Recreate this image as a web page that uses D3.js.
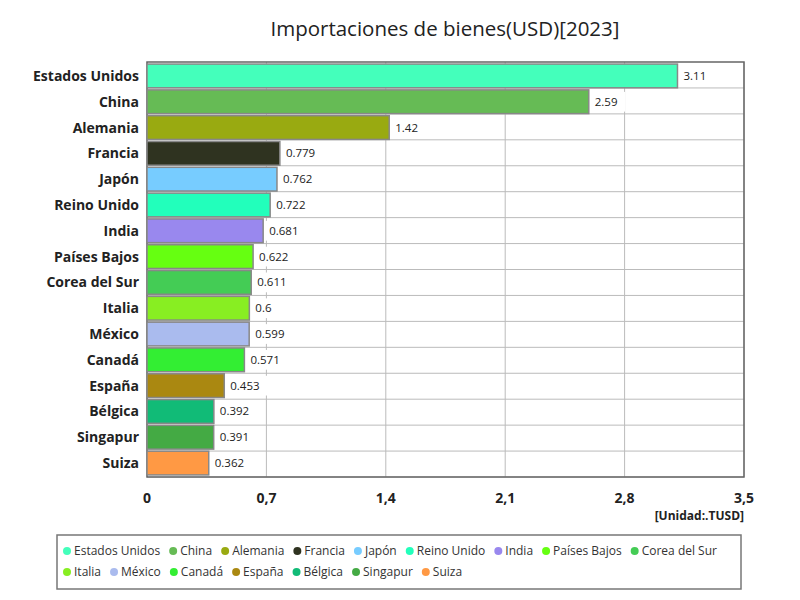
<!DOCTYPE html>
<html><head><meta charset="utf-8">
<script src="https://cdn.jsdelivr.net/npm/d3@7"></script>
<style>body{margin:0;background:#fff;font-family:"Open Sans","Noto Sans",sans-serif;}</style>
</head><body><svg id="c" width="800" height="600"></svg>
<script>
var countries = ["Estados Unidos","China","Alemania","Francia","Japón","Reino Unido","India","Países Bajos","Corea del Sur","Italia","México","Canadá","España","Bélgica","Singapur","Suiza"];
var values = [3.11,2.59,1.42,0.779,0.762,0.722,0.681,0.622,0.611,0.6,0.599,0.571,0.453,0.392,0.391,0.362];
var colors = ["#44ffbb","#66bb55","#99aa11","#2f3320","#77ccff","#22ffbb","#9988ee","#66ff11","#44cc55","#88ee22","#aabbee","#33ee33","#aa8811","#11bb77","#44aa44","#ff9944"];
var ticks = [0,0.7,1.4,2.1,2.8,3.5];

var svg = d3.select("#c");
var m = {l:147, r:744, t:62, b:477};
var x = d3.scaleLinear().domain([0,3.5]).range([m.l,m.r]);
var y = d3.scaleBand().domain(countries).range([m.t,m.b]).padding(0.08);
var fmt = function(v){ return String(v).replace(".", ","); };

svg.append("text").attr("x",445).attr("y",36).attr("text-anchor","middle")
  .style("font-size","20.5px").attr("fill","#222").text("Importaciones de bienes(USD)[2023]");

var g = svg.append("g");
ticks.forEach(function(t){
  g.append("line").attr("x1",x(t)).attr("x2",x(t)).attr("y1",m.t).attr("y2",m.b).attr("stroke","#bbb");
  svg.append("text").attr("x",x(t)).attr("y",503).attr("text-anchor","middle")
    .style("font-size","14px").style("font-weight","bold").attr("fill","#222").text(fmt(t));
});
var step = (m.b-m.t)/countries.length;
countries.forEach(function(c,i){
  g.append("line").attr("x1",m.l).attr("x2",m.r).attr("y1",m.t+step*(i+1)).attr("y2",m.t+step*(i+1)).attr("stroke","#bbb");
});
svg.append("rect").attr("x",m.l).attr("y",m.t).attr("width",m.r-m.l).attr("height",m.b-m.t)
  .attr("fill","none").attr("stroke","#666").attr("stroke-width",1.5);

countries.forEach(function(c,i){
  var yy = y(c), h = y.bandwidth();
  svg.append("rect").attr("x",m.l).attr("y",yy).attr("width",x(values[i])-m.l).attr("height",h)
    .attr("fill",colors[i]).attr("stroke","#888").attr("stroke-width",1.5);
  var lbl = String(values[i]);
  var tw = lbl.length*6.6+8;
  svg.append("rect").attr("x",x(values[i])+2).attr("y",yy+2).attr("width",tw).attr("height",h-4).attr("fill","#fff");
  svg.append("text").attr("x",x(values[i])+6).attr("y",yy+h/2+4)
    .style("font-size","11.5px").attr("fill","#222").text(lbl);
  svg.append("text").attr("x",139).attr("y",yy+h/2+5).attr("text-anchor","end")
    .style("font-size","14px").style("font-weight","bold").attr("fill","#222").text(c);
});

svg.append("text").attr("x",744).attr("y",520).attr("text-anchor","end")
  .style("font-size","12px").style("font-weight","bold").attr("fill","#222").text("[Unidad:.TUSD]");

// legend
svg.append("rect").attr("x",57).attr("y",535).attr("width",684).attr("height",54)
  .attr("fill","#fff").attr("stroke","#777").attr("stroke-width",1.5);
var lx = 63, ly = 551, rowW = 738;
countries.forEach(function(c,i){
  var t = svg.append("text").attr("y",ly+4).style("font-size","12px").attr("fill","#333").text(c);
  var w = t.node().getComputedTextLength() + 20;
  if (lx + w > rowW) { lx = 63; ly += 21; t.attr("y",ly+4); }
  t.attr("x",lx+11);
  svg.append("circle").attr("cx",lx+4).attr("cy",ly).attr("r",4).attr("fill",colors[i]);
  lx += w;
});
</script></body></html>
